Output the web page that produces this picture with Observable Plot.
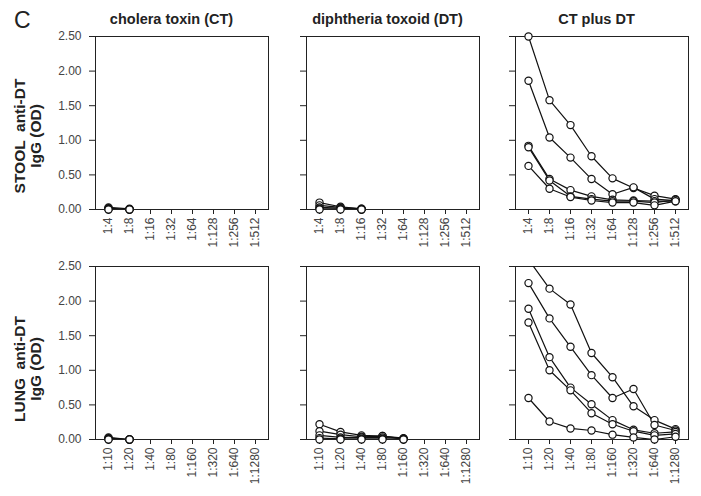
<!DOCTYPE html>
<html><head><meta charset="utf-8">
<script src="https://cdn.jsdelivr.net/npm/d3@7"></script>
<script src="https://cdn.jsdelivr.net/npm/@observablehq/plot@0.6"></script>
<style>
body{margin:0;background:#fff;}
#chart{position:relative;width:701px;height:496px;font-family:"Liberation Sans",Arial,Helvetica,sans-serif;}
#chart svg{position:absolute;overflow:visible;}
</style></head><body><div id="chart"></div>
<script>
const stoolDilutions = ["1:4","1:8","1:16","1:32","1:64","1:128","1:256","1:512"];
const lungDilutions = ["1:10","1:20","1:40","1:80","1:160","1:320","1:640","1:1280"];
const yTicks = [0, 0.5, 1, 1.5, 2, 2.5];
const columnTitles = ["cholera toxin (CT)", "diphtheria toxoid (DT)", "CT plus DT"];
const rowTitles = ["STOOL  anti-DT", "LUNG  anti-DT"];
const rowSubtitle = "IgG (OD)";
const panelLetter = "C";

// each inner array = one animal/series, values by dilution (OD)
const stoolCT = [[0.03,0.01],[0.02,0.00],[0.01,0.00],[0.00,0.00],[0.00,0.00]];
const stoolDT = [[0.10,0.04,0.01],[0.06,0.03,0.01],[0.03,0.02,0.00],[0.01,0.01,0.00],[0.00,0.00,0.00]];
const stoolCTDT = [
  [2.50,1.58,1.22,0.77,0.45,0.31,0.20,0.15],
  [1.86,1.04,0.75,0.44,0.22,0.32,0.15,0.13],
  [0.92,0.44,0.28,0.19,0.14,0.13,0.12,0.12],
  [0.90,0.42,0.19,0.15,0.12,0.12,0.10,0.14],
  [0.63,0.30,0.18,0.13,0.10,0.10,0.06,0.12]
];
const lungCT = [[0.03,0.00],[0.02,0.00],[0.01,0.00],[0.00,0.00],[0.00,0.00]];
const lungDT = [
  [0.22,0.11,0.06,0.05,0.02],
  [0.12,0.07,0.04,0.05,0.01],
  [0.06,0.03,0.03,0.03,0.01],
  [0.02,0.01,0.01,0.01,0.00],
  [0.00,0.00,0.00,0.00,0.00]
];
const lungCTDT = [
  [2.60,2.18,1.95,1.25,0.90,0.48,0.28,0.15],
  [2.26,1.75,1.34,0.93,0.60,0.73,0.21,0.13],
  [1.89,1.19,0.75,0.51,0.28,0.14,0.09,0.11],
  [1.69,1.00,0.71,0.38,0.22,0.12,0.06,0.08],
  [0.60,0.26,0.16,0.13,0.07,0.03,0.00,0.04]
];

const panels = [
  [stoolCT, stoolDT, stoolCTDT],
  [lungCT, lungDT, lungCTDT]
];
const rowDilutions = [stoolDilutions, lungDilutions];

const frameLeft = [95, 306, 515];
const frameTop = [36, 266];
const FW = 173, FH = 173;
const font = '"Liberation Sans", Arial, Helvetica, sans-serif';
const chart = document.getElementById("chart");

function rows(series, dil) {
  const out = [];
  series.forEach((vals, s) => vals.forEach((v, i) => out.push({dilution: dil[i], od: v, series: s})));
  return out;
}

for (let r = 0; r < 2; r++) {
  for (let c = 0; c < 3; c++) {
    const dil = rowDilutions[r];
    const data = rows(panels[r][c], dil);
    const ml = c === 0 ? 60 : 12, mr = 8, mt = 8, mb = 52;
    const p = Plot.plot({
      width: ml + FW + mr,
      height: mt + FH + mb,
      marginLeft: ml, marginRight: mr, marginTop: mt, marginBottom: mb,
      style: {fontSize: "12px", fontFamily: font, color: "#222", background: "transparent"},
      x: {type: "point", domain: dil, padding: 0.5, label: null},
      y: {domain: [0, 2.5], label: null},
      marks: [
        Plot.frame({stroke: "#222", strokeWidth: 1}),
        Plot.axisY({ticks: yTicks, tickSize: 6, tickPadding: 8, label: null, fill: "#444",
          tickFormat: c === 0 ? d3.format(".2f") : () => ""}),
        Plot.axisX({tickRotate: -90, tickSize: 5, tickPadding: 3, label: null, fill: "#444"}),
        Plot.line(data, {x: "dilution", y: "od", z: "series", stroke: "#111", strokeWidth: 1.2, clip: true}),
        Plot.dot(data.filter(d => d.od <= 2.5), {x: "dilution", y: "od", r: 3.6, fill: "white", stroke: "#111", strokeWidth: 1.2})
      ]
    });
    p.style.left = (frameLeft[c] - ml) + "px";
    p.style.top = (frameTop[r] - mt) + "px";
    chart.appendChild(p);
  }
}

// text overlay
const ov = d3.create("svg").attr("width", 701).attr("height", 496)
  .style("left", "0px").style("top", "0px").style("pointer-events", "none")
  .style("font-family", font);
ov.append("text").attr("x", 14).attr("y", 28).attr("font-size", 23).attr("fill", "#222").text(panelLetter);
columnTitles.forEach((t, c) => {
  ov.append("text").attr("x", frameLeft[c] + FW / 2 - (c === 0 ? 10 : 5)).attr("y", 24)
    .attr("text-anchor", "middle").attr("font-size", 14.5).attr("font-weight", "bold").attr("fill", "#222").text(t);
});
const rowCenters = [136, 369];
rowTitles.forEach((t, r) => {
  ov.append("text").attr("transform", `translate(25,${rowCenters[r]}) rotate(-90)`)
    .attr("text-anchor", "middle").attr("font-size", 15.5).attr("font-weight", "bold").attr("fill", "#222")
    .style("white-space", "pre").text(t);
  ov.append("text").attr("transform", `translate(41,${rowCenters[r]}) rotate(-90)`)
    .attr("text-anchor", "middle").attr("font-size", 15.5).attr("font-weight", "bold").attr("fill", "#222")
    .style("white-space", "pre").text(rowSubtitle);
});
chart.appendChild(ov.node());
</script></body></html>
